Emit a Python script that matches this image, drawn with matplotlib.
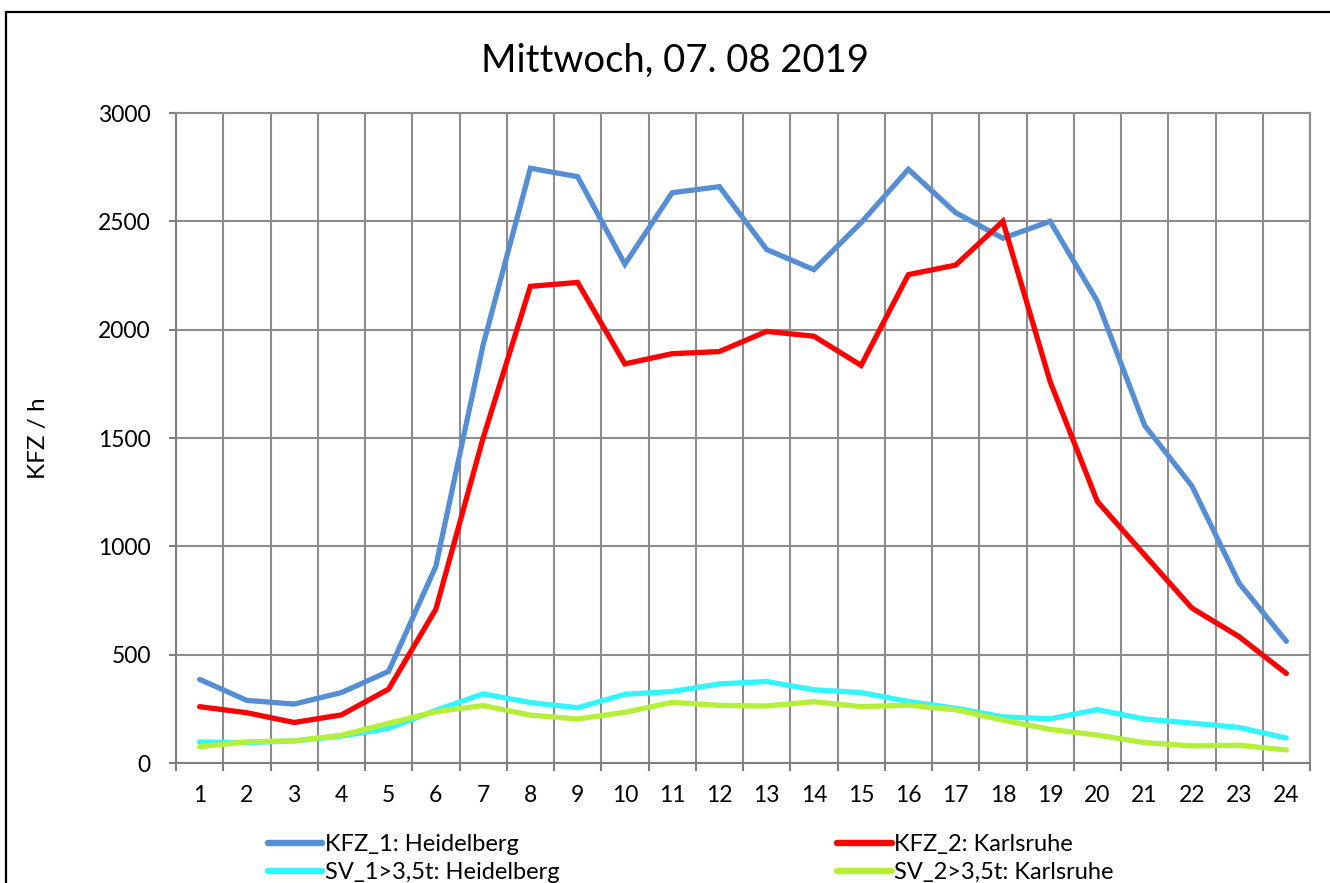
import numpy as np
import matplotlib
matplotlib.use("Agg")
import matplotlib.pyplot as plt
from matplotlib.patches import Rectangle
from matplotlib.ticker import MultipleLocator, FixedLocator

plt.rcParams['font.family'] = ['Lato', 'DejaVu Sans']

# hours of the day
stunden = list(range(1, 25))

# vehicles per hour
kfz_heidelberg = [386, 289, 272, 325, 423, 908, 1930, 2745, 2706, 2302, 2632, 2660,
                  2370, 2277, 2494, 2740, 2540, 2422, 2500, 2131, 1558, 1279, 830, 562]
kfz_karlsruhe = [260, 232, 187, 222, 341, 710, 1500, 2200, 2218, 1842, 1889, 1899,
                 1992, 1970, 1835, 2254, 2298, 2500, 1760, 1207, 960, 715, 583, 413]
sv_heidelberg = [97, 94, 102, 124, 160, 243, 319, 279, 255, 317, 330, 365,
                 376, 338, 325, 284, 253, 213, 204, 246, 203, 184, 164, 115]
sv_karlsruhe = [75, 98, 102, 128, 183, 237, 265, 221, 203, 234, 280, 266,
                263, 283, 260, 267, 246, 198, 155, 129, 94, 79, 82, 60]

titel = "Mittwoch, 07. 08 2019"
labels = ["KFZ_1: Heidelberg", "KFZ_2: Karlsruhe",
          "SV_1>3,5t: Heidelberg", "SV_2>3,5t: Karlsruhe"]
farben = ["#558ED5", "#FF0000", "#33F5FF", "#B5EF3A"]

fig = plt.figure(figsize=(13.3, 8.83), dpi=100)
ax = fig.add_axes([176/1330, 1 - 763/883, (1310 - 176)/1330, (763 - 113)/883])

serien = [kfz_heidelberg, kfz_karlsruhe, sv_heidelberg, sv_karlsruhe]
linien = []
for werte, lab, col in zip(serien, labels, farben):
    l, = ax.plot(stunden, werte, color=col, lw=3.8, label=lab,
                 solid_capstyle='round', solid_joinstyle='miter', zorder=3)
    linien.append(l)

ax.set_xlim(0.5, 24.5)
ax.set_ylim(0, 3000)
ax.yaxis.set_major_locator(MultipleLocator(500))
ax.set_xticks(stunden)
ax.xaxis.set_minor_locator(FixedLocator(np.arange(0.5, 25, 1)))

gridgrau = "#8C8C8C"
ax.grid(axis='y', which='major', color=gridgrau, lw=1.5)
ax.grid(axis='x', which='minor', color=gridgrau, lw=1.5)
ax.grid(axis='x', which='major', visible=False)
ax.set_axisbelow(True)

for s in ['top', 'right']:
    ax.spines[s].set_color(gridgrau)
    ax.spines[s].set_linewidth(1.5)
for s in ['left', 'bottom']:
    ax.spines[s].set_color("#7F7F7F")
    ax.spines[s].set_linewidth(1.5)

ax.tick_params(axis='y', which='major', length=5, width=1.5, color="#7F7F7F",
               pad=13, labelsize=16.5)
ax.tick_params(axis='x', which='major', length=0, pad=16, labelsize=16.5)
ax.tick_params(axis='x', which='minor', length=6, width=1.5, color="#7F7F7F")

fig.text(38/1330, 1 - 438/883, "KFZ / h", rotation=90, fontsize=17.5,
         ha='center', va='center')

fig.text(675/1330, 1 - 61/883, titel, fontsize=27.5, ha='center', va='center')

# outer chart frame
fig.patches.append(Rectangle((6/1330, -0.2), 1.2, 1.2 - 12/883,
                             transform=fig.transFigure, fill=False,
                             edgecolor='black', lw=1.6))

leg = fig.legend([linien[0], linien[2], linien[1], linien[3]],
                 [labels[0], labels[2], labels[1], labels[3]],
                 ncol=2, loc='upper left', bbox_to_anchor=(268/1330, 1 - 834/883),
                 frameon=False, fontsize=17, handlelength=2.3, handletextpad=0.12,
                 columnspacing=11.75, labelspacing=0.3, borderpad=0, borderaxespad=0)
for h in leg.legend_handles:
    h.set_linewidth(4.6)

fig.savefig("out.png", dpi=100)
